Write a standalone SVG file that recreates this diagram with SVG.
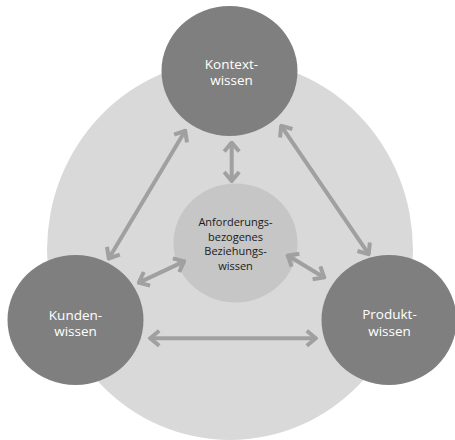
<svg xmlns="http://www.w3.org/2000/svg" width="455" height="440" viewBox="0 0 455 440">
  <defs>
    <style>
      .outer { fill: #7f7f7f; }
      .outer-text { font-family: "Open Sans", "Noto Sans", sans-serif; font-size: 13.5px; fill: #ffffff; text-anchor: middle; }
      .inner-text { font-family: "Open Sans", "Noto Sans", sans-serif; font-size: 11px; fill: #1a1a1a; text-anchor: middle; }
      .arrow { stroke: #a0a0a0; stroke-width: 4; fill: none; marker-start: url(#head); marker-end: url(#head); }
    </style>
    <marker id="head" markerUnits="userSpaceOnUse" viewBox="-14 -10 16 20" refX="0" refY="0" markerWidth="16" markerHeight="20" orient="auto-start-reverse">
      <path d="M-9,-7.5 L0,0 L-9,7.5" fill="none" stroke="#a0a0a0" stroke-width="4" stroke-linejoin="miter"/>
    </marker>
  </defs>

  <g id="background">
    <ellipse cx="230" cy="250" rx="183" ry="190" fill="#d9d9d9"/>
  </g>

  <g id="node-center">
    <ellipse cx="235.5" cy="243" rx="62" ry="59.5" fill="#c6c6c6"/>
    <text class="inner-text" x="235.5" y="226">Anforderungs-<tspan x="235.5" dy="14.5">bezogenes</tspan><tspan x="235.5" dy="14.5">Beziehungs-</tspan><tspan x="235.5" dy="14.5">wissen</tspan></text>
  </g>

  <g id="node-kontext">
    <ellipse class="outer" cx="229.5" cy="71" rx="68" ry="65"/>
    <text class="outer-text" x="231.5" y="68.7">Kontext-<tspan x="231.5" dy="16.5">wissen</tspan></text>
  </g>

  <g id="node-kunden">
    <ellipse class="outer" cx="75.5" cy="320" rx="68" ry="65"/>
    <text class="outer-text" x="75.5" y="319.7">Kunden-<tspan x="75.5" dy="16.5">wissen</tspan></text>
  </g>

  <g id="node-produkt">
    <ellipse class="outer" cx="389" cy="320" rx="67.5" ry="65"/>
    <text class="outer-text" x="389.5" y="319.2">Produkt-<tspan x="389.5" dy="16.5">wissen</tspan></text>
  </g>

  <g id="connectors">
    <line class="arrow" x1="231.7" y1="142.5" x2="231.7" y2="181"/>
    <line class="arrow" x1="185.2" y1="130.8" x2="108.8" y2="258.5"/>
    <line class="arrow" x1="281.2" y1="125.8" x2="368.7" y2="254.2"/>
    <line class="arrow" x1="138.8" y1="282.6" x2="184.2" y2="261.4"/>
    <line class="arrow" x1="287.8" y1="255.5" x2="324.2" y2="277.5"/>
    <line class="arrow" x1="150.2" y1="338.3" x2="315.8" y2="338.3"/>
  </g>
</svg>
